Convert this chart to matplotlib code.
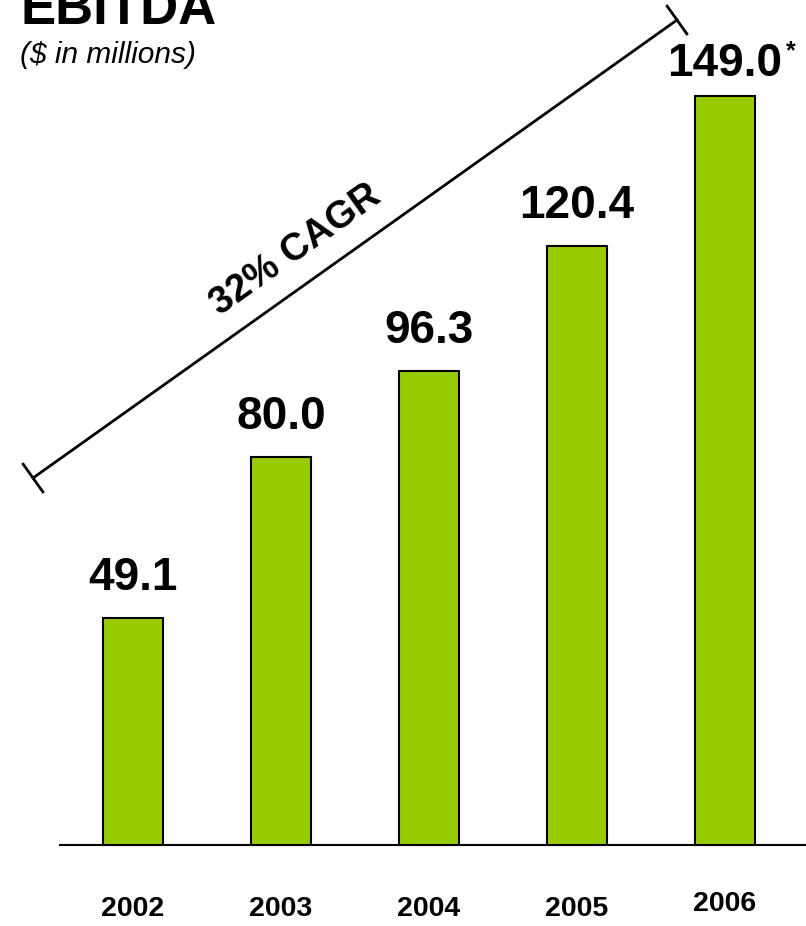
import matplotlib
matplotlib.use("Agg")
import matplotlib.pyplot as plt
import matplotlib.transforms as mtransforms
import numpy as np

plt.rcParams["font.family"] = ["Liberation Sans", "DejaVu Sans"]

years = ["2002", "2003", "2004", "2005", "2006"]
ebitda = [49.1, 80.0, 96.3, 120.4, 149.0]
value_labels = ["49.1", "80.0", "96.3", "120.4", "149.0"]

W, H = 806, 926
fig = plt.figure(figsize=(W / 100, H / 100), dpi=100)
ax = fig.add_axes([60 / W, (H - 845) / H, 1 - 60 / W, 845 / H])

x = np.arange(len(years))
ax.bar(x, ebitda, width=0.405, color="#99CC00", edgecolor="black", linewidth=1.5)
ax.set_xlim(-0.493, 4.547)
ax.set_ylim(5.65, 167.4)

for xi, v, lab in zip(x, ebitda, value_labels):
    off = 20 if xi == 4 else 28
    ax.annotate(lab, (xi, v), xytext=(0, off * 0.72), textcoords="offset points",
                ha="center", va="baseline", fontsize=33, fontweight="bold")
# asterisk after the 2006 value
ax.annotate("*", (4, ebitda[4]), xytext=(47, 27), textcoords="offset points",
            ha="center", va="baseline", fontsize=18, fontweight="bold")

ax.set_xticks(x)
ax.set_xticklabels(years, fontsize=20.5, fontweight="bold")
ax.tick_params(axis="x", length=0, pad=37)
ax.set_yticks([])
for s in ["top", "right", "left"]:
    ax.spines[s].set_visible(False)
ax.spines["bottom"].set_linewidth(1.5)
# 2006 label sits a little higher
lbl = ax.get_xticklabels()[-1]
lbl.set_transform(lbl.get_transform() + mtransforms.ScaledTranslation(0, 5 / 100, fig.dpi_scale_trans))

# CAGR bracket line (pixel coords)
p0 = np.array([33.0, 478.0])
p1 = np.array([677.0, 20.0])
d = (p1 - p0) / np.linalg.norm(p1 - p0)
perp = np.array([-d[1], d[0]])
cap = 17


def to_fig(pts):
    pts = np.asarray(pts)
    return pts[:, 0] / W, 1 - pts[:, 1] / H


for seg in [[p0, p1], [p0 - perp * cap, p0 + perp * cap], [p1 - perp * cap, p1 + perp * cap]]:
    fx, fy = to_fig(seg)
    fig.add_artist(plt.Line2D(fx, fy, color="black", linewidth=2))

fig.text(296 / W, 1 - 250 / H, "32% CAGR", rotation=35.4, ha="center", va="center",
         fontsize=27.5, fontweight="bold", rotation_mode="anchor")

fig.text(20 / W, 1 - 24 / H, "EBITDA", fontsize=38, fontweight="bold", va="baseline")
fig.text(20 / W, 1 - 63 / H, "($ in millions)", fontsize=21.5, style="italic", va="baseline")

fig.savefig("out.png", dpi=100)
